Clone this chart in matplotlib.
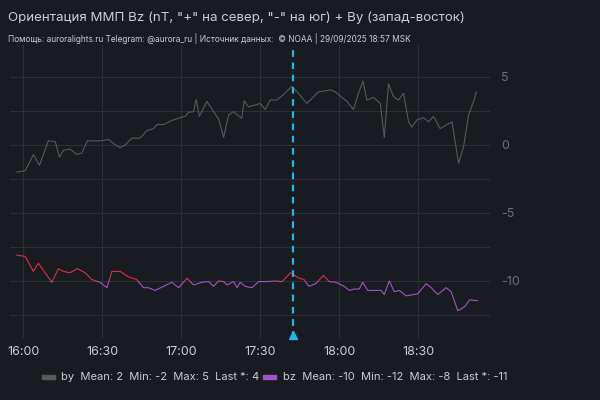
import matplotlib
matplotlib.use("Agg")
import matplotlib.pyplot as plt
from matplotlib.patches import Rectangle
from matplotlib.ticker import FuncFormatter, MultipleLocator

plt.rcParams["font.family"] = ["Inter", "DejaVu Sans"]
plt.rcParams["axes.unicode_minus"] = False

# minutes after 16:00
by_t = [-2.4, 0.8, 3.9, 6.2, 9.6, 12.2, 13.8, 15.3, 17.8, 20.4, 22.3, 24.4, 26.1, 29.2,
        32.4, 34.3, 36.8, 38.7, 41.3, 44.4, 47.0, 49.5, 50.8, 53.3, 56.5, 59.6, 61.5,
        62.8, 64.7, 65.7, 66.9, 69.8, 72.3, 74.2, 76.1, 78.0, 79.9, 83.0, 83.9, 85.5,
        90.0, 91.9, 93.8, 96.3, 98.8, 102.0, 104.5, 107.7, 112.1, 116.6, 118.5, 122.9,
        125.4, 127.3, 129.0, 130.5, 133.0, 135.6, 137.1, 138.7, 140.6, 142.5, 144.4,
        146.3, 147.6, 149.5, 152.0, 153.9, 155.8, 158.3, 160.9, 162.8, 165.3, 167.2,
        169.1, 171.0, 172.0]
by_v = [-2.0, -1.9, -0.7, -1.5, 0.3, 0.25, -0.9, -0.4, -0.3, -0.7, -0.6, 0.3, 0.3, 0.3,
        0.4, 0.1, -0.2, 0.0, 0.5, 0.5, 1.05, 1.2, 1.5, 1.5, 1.8, 2.0, 2.1,
        2.4, 2.45, 3.35, 2.1, 3.2, 2.45, 1.9, 0.55, 2.2, 2.45, 1.95, 3.25, 2.8,
        3.05, 2.6, 3.3, 3.3, 3.7, 4.3, 3.8, 3.05, 3.9, 4.05, 3.9, 3.2,
        2.6, 3.8, 4.7, 3.3, 3.5, 3.05, 0.55, 4.5, 3.55, 3.3, 3.8,
        1.7, 1.3, 1.85, 2.0, 1.7, 2.1, 1.2, 1.5, 1.7, -1.35, -0.1,
        2.2, 3.2, 3.9]

bz_t = [-2.4, 0.8, 3.9, 5.8, 10.9, 13.4, 15.3, 17.8, 20.6, 23.5, 26.1, 29.2, 31.8, 33.7,
        36.8, 40.0, 43.1, 45.7, 47.6, 50.1, 53.3, 56.5, 59.0, 62.2, 64.7, 67.9, 70.4,
        72.3, 74.2, 76.1, 77.4, 79.9, 81.2, 82.4, 84.3, 86.9, 89.4, 92.6, 95.8, 98.3,
        101.5, 104.7, 106.6, 108.5, 111.1, 114.0, 116.2, 118.7, 121.9, 123.8, 125.7,
        127.6, 128.9, 130.8, 135.9, 137.1, 139.0, 140.9, 142.8, 145.4, 149.8, 153.0,
        154.9, 157.4, 160.6, 162.5, 165.0, 167.6, 169.5, 172.4]
bz_v = [-8.1, -8.2, -9.3, -8.7, -10.1, -9.1, -9.3, -9.4, -9.1, -9.4, -9.9, -10.1, -10.5, -9.3,
        -9.3, -9.7, -9.9, -10.5, -10.5, -10.7, -10.4, -10.1, -10.5, -9.8, -10.3, -10.1, -10.05,
        -10.4, -10.0, -10.05, -10.3, -10.05, -10.5, -10.1, -10.4, -10.5, -10.05, -10.05, -10.0, -10.05,
        -9.4, -9.8, -9.9, -10.4, -10.2, -9.6, -10.05, -10.1, -10.4, -10.7, -10.6,
        -10.6, -10.1, -10.7, -10.7, -11.0, -10.0, -10.8, -10.7, -11.1, -10.95, -10.2,
        -10.5, -11.0, -10.5, -10.8, -12.2, -11.9, -11.4, -11.45]

marker_t = 102.5  # 17:42.5
bz_threshold = -10
legend_by = "by  Mean: 2  Min: -2  Max: 5  Last *: 4"
legend_bz = "bz  Mean: -10  Min: -12  Max: -8  Last *: -11"

BG = "#181b1f"
TXT = "#ccccdc"
GRID = "#2c2f35"

fig = plt.figure(figsize=(6, 4), dpi=100, facecolor=BG)
ax = fig.add_axes([0.017, 0.155, 0.8, 0.7325], facecolor=BG)

ax.plot(by_t, by_v, color="#595959", lw=0.8)
red, = ax.plot(bz_t, bz_v, color="#e02f44", lw=0.8)
purple, = ax.plot(bz_t, bz_v, color="#a352cc", lw=0.8)
red.set_clip_path(Rectangle((-10, bz_threshold), 300, 50, transform=ax.transData))
purple.set_clip_path(Rectangle((-10, bz_threshold - 50), 300, 50, transform=ax.transData))

ax.axvline(marker_t, color="#1fb8e8", lw=1.6, ls=(0, (3, 2.5)))
ax.plot([marker_t], [-14.0], marker="^", color="#1fb8e8", ms=6, clip_on=False)

ax.set_xlim(-4.9, 177.3)
ax.set_ylim(-14.2, 7.35)
ax.xaxis.set_major_locator(MultipleLocator(30))
ax.xaxis.set_major_formatter(FuncFormatter(lambda v, p: f"{16 + int(v) // 60}:{int(v) % 60:02d}"))
ax.yaxis.set_major_locator(MultipleLocator(5))
ax.yaxis.set_minor_locator(MultipleLocator(2.5))
ax.yaxis.tick_right()
ax.grid(True, which="both", color=GRID, lw=0.8)
ax.tick_params(axis="y", which="both", length=0, colors="#6e7075", labelsize=9, pad=8)
ax.tick_params(axis="x", length=0, colors=TXT, labelsize=9, pad=6)
for s in ax.spines.values():
    s.set_visible(False)

fig.text(0.013, 0.955, 'Ориентация ММП Bz (nT, "+" на север, "-" на юг) + By (запад-восток)',
         color=TXT, fontsize=9.6, va="center")
fig.text(0.013, 0.905, "Помощь: auroralights.ru Telegram: @aurora_ru | Источник данных:  © NOAA | 29/09/2025 18:57 MSK",
         color=TXT, fontsize=6, va="center")

fig.patches.append(Rectangle((0.07, 0.053), 0.022, 0.01, transform=fig.transFigure, color="#595959"))
fig.text(0.102, 0.058, legend_by, color=TXT, fontsize=8, va="center")
fig.patches.append(Rectangle((0.438, 0.053), 0.022, 0.01, transform=fig.transFigure, color="#a352cc"))
fig.text(0.472, 0.058, legend_bz, color=TXT, fontsize=8, va="center")

fig.savefig("out.png", facecolor=BG)
